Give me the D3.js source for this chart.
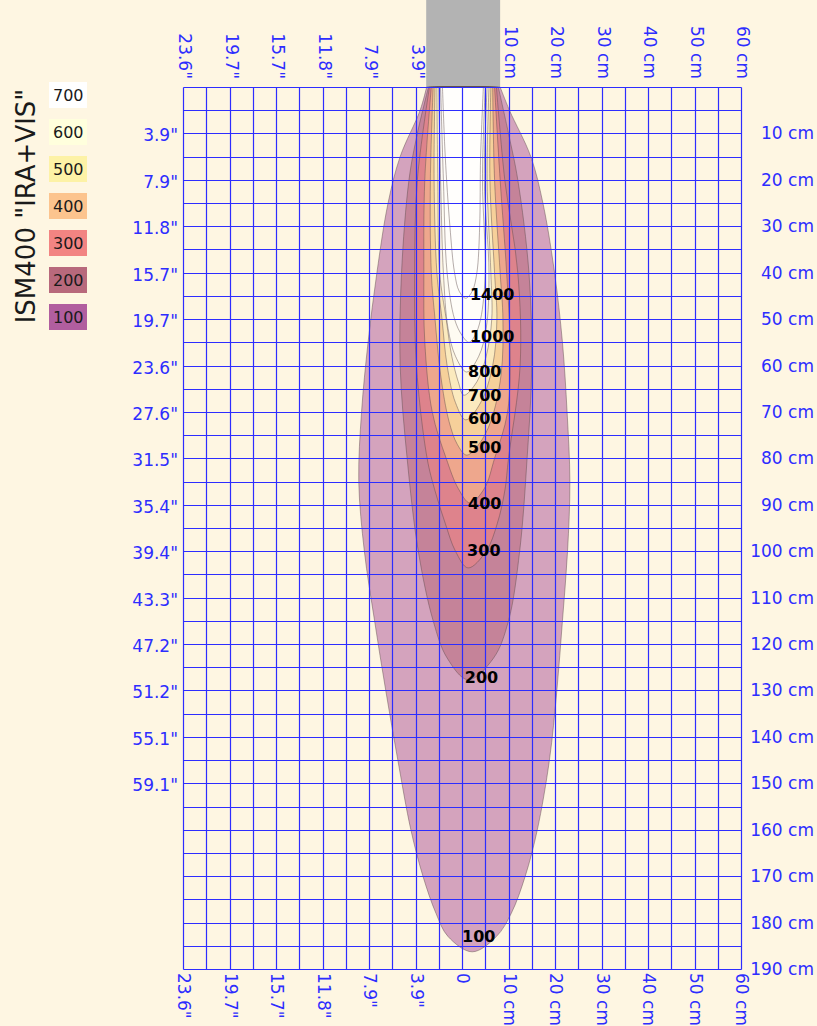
<!DOCTYPE html>
<meta charset="utf-8">
<head>
    <title>ISM400 IRA+VIS</title>
    <script src="https://d3js.org/d3.v7.min.js"></script>
    <style>
        body { margin: 0; background: #fef6e2; }
        text { font-family: "DejaVu Sans", Verdana, sans-serif; }
    </style>
</head>
<body>
<div id="chart"></div>
<script>

// contour levels, outermost first
var levels = [100, 200, 300, 400, 500, 600, 700, 800, 1000, 1400];
var fills = ["#b15e9f", "#b8697c", "#f28482", "#fcc48e", "#fdf2a6", "#ffffdd", "#ffffff", "#ffffff", "#ffffff", "#ffffff"];

// contour edges, each row: [depth cm, left edge cm, right edge cm]
var edge100 = [[0,-7.6,8.2],[5,-9.0,10.2],[15,-13.3,14.8],[25,-15.9,17.4],[40,-18.3,19.9],[55,-20.2,21.6],[70,-21.6,22.6],[85,-22.2,23.2],[100,-21.0,22.7],[115,-18.8,21.6],[130,-16.4,20.4],[145,-13.8,18.8],[160,-11.0,16.2],[170,-8.4,13.6],[178,-5.6,10.6],[183,-3.0,7.4]];
var edge200 = [[0,-7.2,7.8],[10,-9.6,10.0],[20,-11.4,12.0],[40,-13.0,14.4],[60,-13.3,15.0],[80,-11.8,14.0],[100,-9.4,12.4],[115,-6.2,10.0],[123,-3.2,6.8]];
var edge300 = [[0,-7.0,7.4],[20,-9.6,9.2],[40,-10.2,12.0],[60,-9.8,12.5],[80,-7.5,10.0],[87,-5.8,9.2],[94,-3.6,7.6],[100,-1.4,5.2]];
var edge400 = [[0,-6.6,7.0],[20,-8.0,8.2],[40,-8.2,9.6],[55,-8.0,10.3],[70,-6.4,9.8],[80,-3.4,7.0],[86.5,-0.8,4.8]];
var edge500 = [[0,-6.2,6.6],[20,-6.8,7.0],[40,-6.6,8.2],[50,-5.8,8.8],[62,-4.6,8.4],[72,-2.8,6.2],[77,-1.0,3.6]];
var edge600 = [[0,-5.8,6.2],[20,-6.0,6.0],[40,-5.4,7.0],[50,-4.3,7.5],[60,-3.2,6.6],[68,-1.4,4.0]];
var edge700 = [[0,-5.4,5.8],[20,-5.2,5.4],[40,-4.8,6.2],[50,-3.4,6.4],[58,-2.2,5.2],[63.5,-0.8,3.2]];
var edge800 = [[0,-5.0,5.4],[20,-4.6,4.8],[40,-4.0,5.8],[52,-3.0,5.2],[58,-1.4,3.6]];
var edge1000 = [[0,-4.6,5.0],[20,-4.0,4.4],[40,-3.2,5.0],[50,-1.6,4.0],[53.5,0,2.8]];
var edge1400 = [[0,-4.2,4.6],[15,-3.6,4.0],[30,-2.6,3.8],[40,-1.6,3.2],[44,-0.6,2.2]];
var edges = [edge100, edge200, edge300, edge400, edge500, edge600, edge700, edge800, edge1000, edge1400];

// bottom tip of each contour: [depth cm, x cm]
var tips = [[186.3,2.2],[127.7,1.3],[103.6,1.3],[89.6,1.7],[79.3,1.0],[71.7,0.8],[66.4,0.4],[61.4,1.0],[55,1.5],[45.5,0.8]];

// contour label positions (cm)
var labelDepth = [183.1, 127.1, 99.9, 89.8, 77.6, 71.5, 66.4, 61.2, 53.8, 44.8];
var labelX = [0, 0.6, 1.1, 1.3, 1.3, 1.3, 1.3, 1.3, 1.7, 1.7];

// lamp body (cm)
var lampSpan = [-7.7, 8.2];

// legend
var legendLevels = [700, 600, 500, 400, 300, 200, 100];
var legendColors = ["#ffffff", "#ffffdd", "#fdf2a6", "#fcc48e", "#f28482", "#b8697c", "#b15e9f"];

// tick labels
var hTicks = [-60, -50, -40, -30, -20, -10, 0, 10, 20, 30, 40, 50, 60];
var hInch = ['23.6"', '19.7"', '15.7"', '11.8"', '7.9"', '3.9"'];
var leftTicks = [10, 20, 30, 40, 50, 60, 70, 80, 90, 100, 110, 120, 130, 140, 150];
var leftLabels = ['3.9"', '7.9"', '11.8"', '15.7"', '19.7"', '23.6"', '27.6"', '31.5"', '35.4"', '39.4"', '43.3"', '47.2"', '51.2"', '55.1"', '59.1"'];
var rightTicks = [10, 20, 30, 40, 50, 60, 70, 80, 90, 100, 110, 120, 130, 140, 150, 160, 170, 180, 190];

var W = 817, H = 1026;
var blue = "#2d2dff";

var svg = d3.select("#chart").append("svg")
    .attr("width", W)
    .attr("height", H);

var x = d3.scaleLinear().domain([-60, 60]).range([183, 741]);
var y = d3.scaleLinear().domain([0, 190]).range([87, 969]);

// snap grid lines to pixel centres
function px(v) { return Math.round(v) + 0.5; }

function hLabel(v) {
    if (v < 0) return hInch[(v + 60) / 10];
    if (v == 0) return "0";
    return v + " cm";
}

// lamp
svg.append("rect")
    .attr("x", x(lampSpan[0]))
    .attr("y", 0)
    .attr("width", x(lampSpan[1]) - x(lampSpan[0]))
    .attr("height", y(0))
    .style("fill", "#b3b3b3");

// contours
var line = d3.line()
    .x(function(d) { return x(d[0]); })
    .y(function(d) { return y(d[1]); })
    .curve(d3.curveCatmullRom.alpha(0.5));

edges.forEach(function(rows, i) {
    var pts = rows.map(function(r) { return [r[1], r[0]]; });
    pts.push([tips[i][1], tips[i][0]]);
    rows.slice().reverse().forEach(function(r) { pts.push([r[2], r[0]]); });
    svg.append("path")
        .attr("d", line(pts) + "Z")
        .style("fill", fills[i])
        .style("fill-opacity", 0.55)
        .style("stroke", "#5a4a4a")
        .style("stroke-opacity", 0.45)
        .style("stroke-width", 1);
});

// grid
var grid = svg.append("g").style("stroke", blue).style("stroke-width", 1.2);
d3.range(-60, 61, 5).forEach(function(v) {
    grid.append("line")
        .attr("x1", px(x(v))).attr("x2", px(x(v)))
        .attr("y1", px(y(0))).attr("y2", px(y(190)));
});
d3.range(0, 191, 5).forEach(function(v) {
    grid.append("line")
        .attr("x1", px(x(-60))).attr("x2", px(x(60)))
        .attr("y1", px(y(v))).attr("y2", px(y(v)));
});

// top labels
hTicks.filter(function(v) { return v != 0; }).forEach(function(v) {
    svg.append("text")
        .attr("transform", "translate(" + (x(v) + 2) + ",79) rotate(90)")
        .attr("text-anchor", "end")
        .attr("dominant-baseline", "central")
        .style("font-size", "17px")
        .style("fill", blue)
        .text(hLabel(v));
});

// bottom labels
hTicks.forEach(function(v) {
    svg.append("text")
        .attr("transform", "translate(" + (x(v) + 1) + ",973) rotate(90)")
        .attr("text-anchor", "start")
        .attr("dominant-baseline", "central")
        .style("font-size", "17px")
        .style("fill", blue)
        .text(hLabel(v));
});

// left labels
leftTicks.forEach(function(v, i) {
    svg.append("text")
        .attr("x", 178)
        .attr("y", y(v) + 2)
        .attr("text-anchor", "end")
        .attr("dominant-baseline", "central")
        .style("font-size", "17px")
        .style("fill", blue)
        .text(leftLabels[i]);
});

// right labels
rightTicks.forEach(function(v) {
    svg.append("text")
        .attr("x", 814)
        .attr("y", y(v))
        .attr("text-anchor", "end")
        .attr("dominant-baseline", "central")
        .style("font-size", "17px")
        .style("fill", blue)
        .text(v + " cm");
});

// contour labels
levels.forEach(function(l, i) {
    svg.append("text")
        .attr("x", x(labelX[i]))
        .attr("y", y(labelDepth[i]))
        .attr("dominant-baseline", "central")
        .style("font-size", "16px")
        .style("font-weight", "bold")
        .style("fill", "#000")
        .text(l);
});

// title
svg.append("text")
    .attr("transform", "translate(35,206) rotate(-90)")
    .attr("text-anchor", "middle")
    .style("font-size", "26px")
    .style("fill", "#1a1a1a")
    .text('ISM400 "IRA+VIS"');

// legend
legendLevels.forEach(function(l, i) {
    svg.append("rect")
        .attr("x", 49).attr("y", 82 + i * 37)
        .attr("width", 38).attr("height", 26)
        .style("fill", legendColors[i]);
    svg.append("text")
        .attr("x", 53).attr("y", 82 + i * 37 + 13)
        .attr("dominant-baseline", "central")
        .style("font-size", "16px")
        .style("fill", "#1a1a1a")
        .text(l);
});

</script>
</body>
</html>
